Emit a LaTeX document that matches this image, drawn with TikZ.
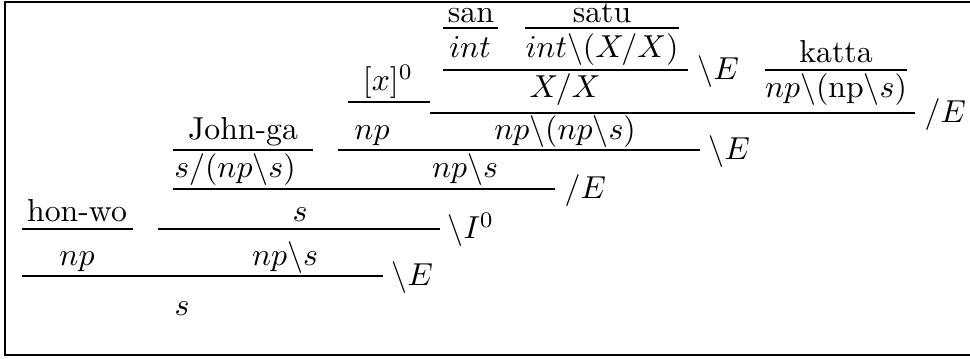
\documentclass[tikz,border=0pt]{standalone}
\begin{document}
\begin{tikzpicture}[
    x=0.34pt, y=-0.34pt,
    every node/.style={font=\normalsize, scale=1.08, inner sep=0pt, anchor=base},
    prem/.style={black},
    rulebar/.style={line width=0.65pt},
    rulename/.style={anchor=base west},
    frameline/.style={line width=0.9pt}
]
\useasboundingbox (0,0) rectangle (970,359);

% frame (right side cut off)
\draw[frameline] (970,2) -- (5,2) -- (5,355) -- (970,355);

% top: san satu katta
\node[prem] (san)  at (471,23) {san};
\node[prem] (satu) at (602,23) {satu};
\node[prem] (int)  at (470,58) {$int$};
\node[prem] (intxx) at (602,58) {$int\backslash(X/X)$};
\node[rulename] (e1) at (697,80) {$\backslash E$};
\node[prem] (katta) at (836,63) {katta};

% hypothesis
\node[prem] (hyp) at (388,91) {$[x]^0$};
\node[prem] (xx)  at (565,98) {$X/X$};
\node[prem] (kattatype) at (836,98) {$np\backslash(\mathrm{np}\backslash s)$};
\node[rulename] (e2) at (924,123) {$/E$};

\node[prem] (john) at (243,140) {John-ga};
\node[prem] (npx)  at (372,140) {$np$};
\node[prem] (vp2)  at (565,140) {$np\backslash(np\backslash s)$};
\node[rulename] (e3) at (708,160) {$\backslash E$};

\node[prem] (johntype) at (235,178) {$s/(np\backslash s)$};
\node[prem] (vp1)  at (465,178) {$np\backslash s$};
\node[rulename] (e4) at (564,199) {$/E$};

\node[prem] (hon)  at (77,222) {hon-wo};
\node[prem] (s1)   at (300,222) {$s$};
\node[rulename] (i0) at (447,239) {$\backslash I^0$};

\node[prem] (np0)  at (77,266) {$np$};
\node[prem] (vp0)  at (285,266) {$np\backslash s$};
\node[rulename] (e5) at (391,286) {$\backslash E$};

\node[prem] (root) at (182,316) {$s$};

% inference bars
\foreach \xa/\xb/\y in {%
  443/498/28, 525/679/28, 443/688/70, 765/907/70,%
  348/430/102, 430/915/113, 173/313/150, 338/700/150,%
  173/555/189, 22/133/229, 158/440/229, 22/383/276}{
  \draw[rulebar] (\xa,\y) -- (\xb,\y);
}

\end{tikzpicture}
\end{document}
